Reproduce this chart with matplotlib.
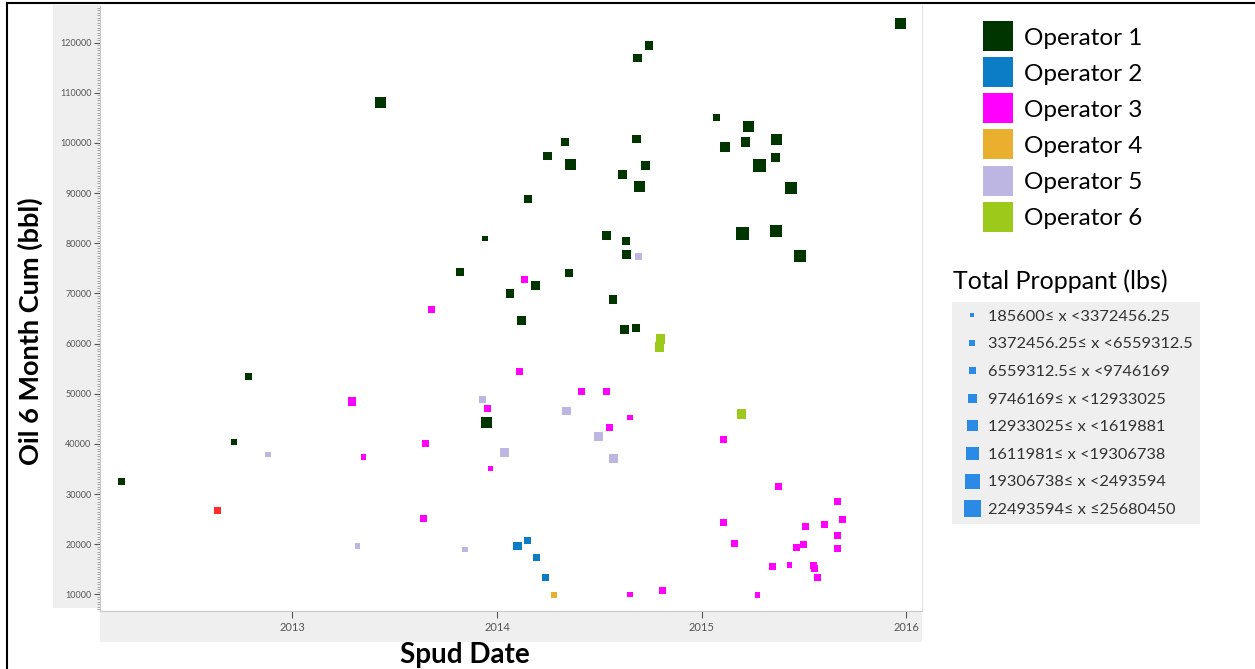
import numpy as np
import pandas as pd
import matplotlib
matplotlib.use('Agg')
import matplotlib.pyplot as plt
import matplotlib.dates as mdates
from matplotlib.lines import Line2D
from matplotlib.patches import Rectangle
from matplotlib.ticker import MultipleLocator

plt.rcParams['font.family'] = ['Lato', 'DejaVu Sans']

# spud dates, 6 month oil cum (bbl) and total proppant (MM lbs) per operator
op1_dates = ['2012-03-03', '2012-09-19', '2012-10-15', '2013-06-07', '2013-12-11', '2013-10-27',
             '2013-12-13', '2014-01-24', '2014-02-14', '2014-02-25', '2014-03-11', '2014-04-01',
             '2014-05-02', '2014-05-12', '2014-05-09', '2014-07-15', '2014-07-27', '2014-08-13',
             '2014-08-19', '2014-08-20', '2014-08-16', '2014-09-06', '2014-09-07', '2014-09-09',
             '2014-09-29', '2014-09-23', '2014-09-12', '2015-01-28', '2015-02-12', '2015-03-20',
             '2015-03-25', '2015-04-14', '2015-05-14', '2015-05-13', '2015-06-10', '2015-03-14',
             '2015-05-14', '2015-06-25', '2015-12-22']
op1_oil = [32500, 40400, 53400, 108000, 81000, 74300, 44200, 70000, 64600, 88800, 71600, 97400,
           100200, 95700, 74100, 81600, 68800, 93700, 80500, 77800, 62800, 63100, 100800, 116900,
           119400, 95500, 91400, 105000, 99200, 100200, 103200, 95500, 100700, 97100, 91000, 81900,
           82500, 77400, 123800]
op1_prop = [4.9, 1.6, 4.9, 14.5, 1.6, 8.2, 14.5, 8.2, 8.2, 8.2, 8.2, 8.2,
            8.2, 14.5, 8.2, 11.3, 8.2, 8.2, 8.2, 8.2, 8.2, 8.2, 8.2, 8.2,
            8.2, 8.2, 14.5, 4.9, 11.3, 11.3, 14.5, 20.9, 14.5, 11.3, 17.7, 20.9,
            17.7, 17.7, 14.5]

op2_dates = ['2014-02-07', '2014-02-25', '2014-03-13', '2014-03-29']
op2_oil = [19700, 20800, 17400, 13300]
op2_prop = [8.2, 4.9, 4.9, 4.9]

op3_dates = ['2013-04-17', '2013-05-08', '2013-08-23', '2013-08-26', '2013-09-07', '2013-12-15',
             '2013-12-20', '2014-02-11', '2014-02-19', '2014-06-01', '2014-07-16', '2014-07-20',
             '2014-08-26', '2014-08-26', '2014-10-24', '2015-02-09', '2015-02-09', '2015-03-01',
             '2015-04-11', '2015-05-07', '2015-05-18', '2015-06-07', '2015-06-20', '2015-07-02',
             '2015-07-06', '2015-07-19', '2015-07-21', '2015-07-27', '2015-08-08', '2015-09-01',
             '2015-09-01', '2015-09-01', '2015-09-10']
op3_oil = [48500, 37400, 25200, 40000, 66800, 47000, 35100, 54500, 72800, 50400, 50400, 43300,
           45300, 10000, 10800, 40900, 24400, 20200, 9900, 15600, 31500, 15900, 19300, 19900,
           23600, 15800, 15100, 13400, 24000, 28500, 21700, 19100, 24900]
op3_prop = [8.2, 1.6, 4.9, 4.9, 4.9, 4.9, 1.6, 4.9, 4.9, 4.9, 4.9, 4.9,
            1.6, 1.6, 4.9, 4.9, 4.9, 4.9, 1.6, 4.9, 4.9, 1.6, 4.9, 4.9,
            4.9, 4.9, 4.9, 4.9, 4.9, 4.9, 4.9, 4.9, 4.9]

op4_dates = ['2014-04-12']
op4_oil = [9800]
op4_prop = [1.6]

op5_dates = ['2012-11-19', '2013-04-27', '2013-11-05', '2013-12-06', '2014-01-14', '2014-05-05',
             '2014-07-01', '2014-07-28', '2014-09-11']
op5_oil = [37900, 19700, 19000, 48800, 38300, 46600, 41500, 37100, 77300]
op5_prop = [1.6, 1.6, 1.6, 4.9, 8.2, 8.2, 8.2, 8.2, 4.9]

op6_dates = ['2014-10-20', '2014-10-18', '2015-03-13']
op6_oil = [60900, 59300, 46000]
op6_prop = [11.3, 11.3, 11.3]

# one well with no operator in the legend
other_dates = ['2012-08-19']
other_oil = [26800]
other_prop = [4.9]

operators = ['Operator 1', 'Operator 2', 'Operator 3', 'Operator 4', 'Operator 5', 'Operator 6']
op_colors = ['#013500', '#0b7cc6', '#ff00ff', '#e8b02e', '#bdb6e2', '#9dca1a']

prop_edges = [185600, 3372456.25, 6559312.5, 9746169, 12933025, 16119881, 19306738, 22493594, 25680450]
prop_labels = ['185600\u2264 x <3372456.25', '3372456.25\u2264 x <6559312.5', '6559312.5\u2264 x <9746169',
               '9746169\u2264 x <12933025', '12933025\u2264 x <1619881', '1611981\u2264 x <19306738',
               '19306738\u2264 x <2493594', '22493594\u2264 x \u226425680450']
bin_px = [5.5, 7, 8.5, 9.5, 11, 12, 13, 14]   # marker side in pixels per proppant bin

W, H = 1255, 669
fig = plt.figure(figsize=(W / 100, H / 100), dpi=100)
fig.patch.set_facecolor('white')


def marker_area(prop_mm):
    idx = np.clip(np.digitize(np.array(prop_mm) * 1e6, prop_edges) - 1, 0, 7)
    side_pt = np.array(bin_px)[idx] * 0.72
    return side_pt ** 2


# grey bands behind the tick labels
fig.add_artist(Rectangle((53 / W, 1 - 608 / H), 47 / W, 603 / H, transform=fig.transFigure,
                         facecolor='#efefef', edgecolor='none', zorder=-1))
fig.add_artist(Rectangle((100 / W, 1 - 642 / H), 822 / W, 31 / H, transform=fig.transFigure,
                         facecolor='#efefef', edgecolor='none', zorder=-1))

ax = fig.add_axes([100 / W, 1 - 611 / H, 822 / W, 605 / H])

series = [(op1_dates, op1_oil, op1_prop), (op2_dates, op2_oil, op2_prop),
          (op3_dates, op3_oil, op3_prop), (op4_dates, op4_oil, op4_prop),
          (op5_dates, op5_oil, op5_prop), (op6_dates, op6_oil, op6_prop)]
for (d, oil, prop), col in zip(series, op_colors):
    ax.scatter(pd.to_datetime(d), oil, s=marker_area(prop), marker='s', color=col,
               linewidths=0, zorder=3)
ax.scatter(pd.to_datetime(other_dates), other_oil, s=marker_area(other_prop), marker='s',
           color='#ff2b2b', linewidths=0, zorder=3)

ax.set_xlim(pd.Timestamp('2012-01-24'), pd.Timestamp('2016-01-29'))
ax.set_ylim(6700, 127300)

ax.xaxis.set_major_locator(mdates.YearLocator())
ax.xaxis.set_major_formatter(mdates.DateFormatter('%Y'))
ax.yaxis.set_major_locator(MultipleLocator(10000))
ax.yaxis.set_minor_locator(MultipleLocator(500))
ax.tick_params(axis='x', labelsize=8, colors='#555555', length=5, width=0.8, pad=3)
ax.tick_params(axis='y', which='major', labelsize=6.5, colors='#555555', length=4, width=0.8, pad=2)
ax.tick_params(axis='y', which='minor', length=2, width=0.6, colors='#999999')

for side in ['left', 'bottom']:
    ax.spines[side].set_color('#c8c8c8')
ax.spines['right'].set_color('#e2e2e2')
ax.spines['top'].set_visible(False)

fig.text(30 / W, 1 - 331 / H, 'Oil 6 Month Cum (bbl)', rotation=90, ha='center', va='center',
         fontsize=19.5, fontweight='bold')
fig.text(465 / W, 1 - 655 / H, 'Spud Date', ha='center', va='center', fontsize=20,
         fontweight='bold')

# operator colour legend
op_handles = [Line2D([], [], marker='s', linestyle='', markersize=22, color=c,
                     markeredgewidth=0) for c in op_colors]
leg1 = fig.legend(op_handles, operators, loc='upper left', bbox_to_anchor=(972 / W, 1 - 18 / H),
                  frameon=False, fontsize=17.5, handlelength=1.3, handletextpad=0.45,
                  labelspacing=0.62, borderaxespad=0)

# proppant size legend
fig.text(953 / W, 1 - 281 / H, 'Total Proppant (lbs)', ha='left', va='center', fontsize=18)
size_px = [5, 6, 7, 9, 11, 13, 15, 17]
prop_handles = [Line2D([], [], marker='s', linestyle='', markersize=p * 0.72, color='#2b8ae6',
                       markeredgewidth=0) for p in size_px]
leg2 = fig.legend(prop_handles, prop_labels, loc='upper left', bbox_to_anchor=(952 / W, 1 - 302 / H),
                  frameon=True, fancybox=False, facecolor='#efefef', edgecolor='none', framealpha=1,
                  fontsize=11.8, handlelength=1.5, handletextpad=0.25, labelspacing=0.8,
                  borderaxespad=0, borderpad=0.45)
for t in leg2.get_texts():
    t.set_color('#333333')

# page frame lines
fig.add_artist(Line2D([7 / W, 7 / W], [0, 1 - 3 / H], transform=fig.transFigure, color='black', lw=1.5))
fig.add_artist(Line2D([7 / W, 1], [1 - 3 / H, 1 - 3 / H], transform=fig.transFigure, color='black', lw=1.5))

fig.savefig('out.png', dpi=100)
